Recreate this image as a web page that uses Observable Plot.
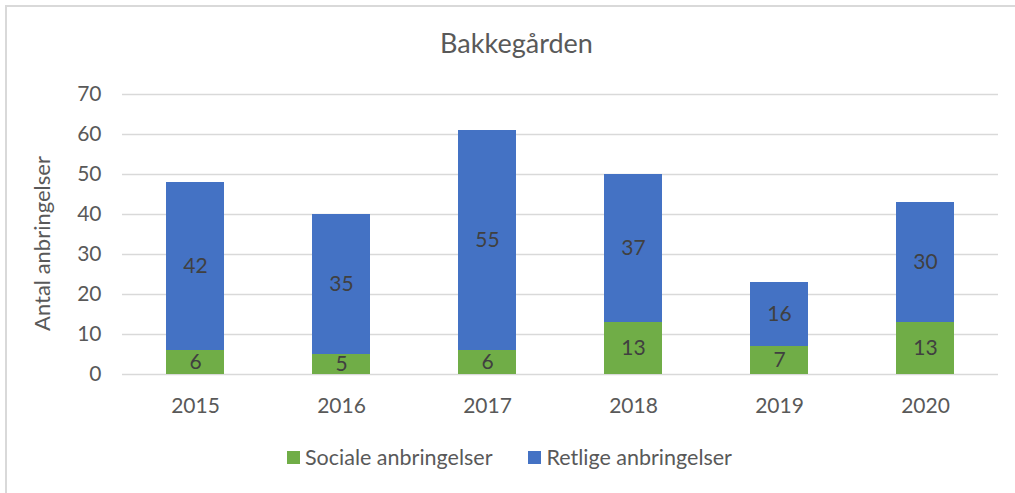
<!DOCTYPE html>
<html>
<head>
<meta charset="utf-8">
<script src="https://cdn.jsdelivr.net/npm/d3@7"></script>
<script src="https://cdn.jsdelivr.net/npm/@observablehq/plot@0.6"></script>
<style>
  html, body { margin: 0; padding: 0; background: #fff; }
  #wrap { position: relative; width: 1015px; height: 493px; overflow: hidden; font-family: Lato, sans-serif; }
  #frame { position: absolute; left: 5px; top: 5px; width: 1100px; height: 600px; border: 2px solid #d9d9d9; box-sizing: border-box; }
  #title { position: absolute; left: 0; width: 1033px; top: 26px; text-align: center; font-size: 27px; color: #595959; }
  #legend { position: absolute; top: 444px; left: 287px; display: flex; align-items: center; font-size: 21.5px; color: #595959; }
  .sw { width: 13px; height: 13px; display: inline-block; margin-right: 5px; }
  .item { display: flex; align-items: center; margin-right: 36px; }
  #chart { position: absolute; left: 0; top: 0; }
</style>
</head>
<body>
<div id="wrap">
  <div id="frame"></div>
  <div id="chart"></div>
  <div id="title">Bakkegården</div>
  <div id="legend"></div>
</div>
<script>
const years = ["2015", "2016", "2017", "2018", "2019", "2020"];
const sociale = [6, 5, 6, 13, 7, 13];
const retlige = [42, 35, 55, 37, 16, 30];
const seriesNames = ["Sociale anbringelser", "Retlige anbringelser"];
const seriesColors = ["#70AD47", "#4472C4"];
const yTicks = [0, 10, 20, 30, 40, 50, 60, 70];

const data = [];
years.forEach((y, i) => {
  data.push({year: y, series: seriesNames[0], value: sociale[i]});
  data.push({year: y, series: seriesNames[1], value: retlige[i]});
});

const chart = Plot.plot({
  width: 1015,
  height: 420,
  marginTop: 94,
  marginBottom: 46,
  marginLeft: 122,
  marginRight: 17,
  style: {fontFamily: "Lato, sans-serif", background: "transparent", overflow: "visible"},
  x: {domain: years, paddingInner: 0.6, paddingOuter: 0.3, label: null},
  y: {domain: [0, 70], ticks: yTicks, label: null},
  color: {domain: seriesNames, range: seriesColors},
  marks: [
    Plot.gridY(yTicks, {stroke: "#d9d9d9", strokeOpacity: 1, strokeWidth: 1.5}),
    Plot.barY(data, Plot.stackY({x: "year", y: "value", fill: "series", order: seriesNames})),
    Plot.text(data, Plot.stackY({x: "year", y: "value", z: "series", order: seriesNames, text: d => String(d.value), fill: "#404040", fontSize: 21})),
    Plot.axisX({fontSize: 21, color: "#595959", tickSize: 0, tickPadding: 24}),
    Plot.axisY({ticks: yTicks, fontSize: 21, color: "#595959", tickSize: 0, tickPadding: 21}),
    Plot.text(["Antal anbringelser"], {frameAnchor: "left", textAnchor: "middle", dx: -80, dy: 9, rotate: -90, fontSize: 22, fill: "#595959"})
  ]
});
document.getElementById("chart").appendChild(chart);

const legend = document.getElementById("legend");
seriesNames.forEach((n, i) => {
  const it = document.createElement("div");
  it.className = "item";
  const sw = document.createElement("span");
  sw.className = "sw";
  sw.style.background = seriesColors[i];
  it.appendChild(sw);
  it.appendChild(document.createTextNode(n));
  legend.appendChild(it);
});
</script>
</body>
</html>
